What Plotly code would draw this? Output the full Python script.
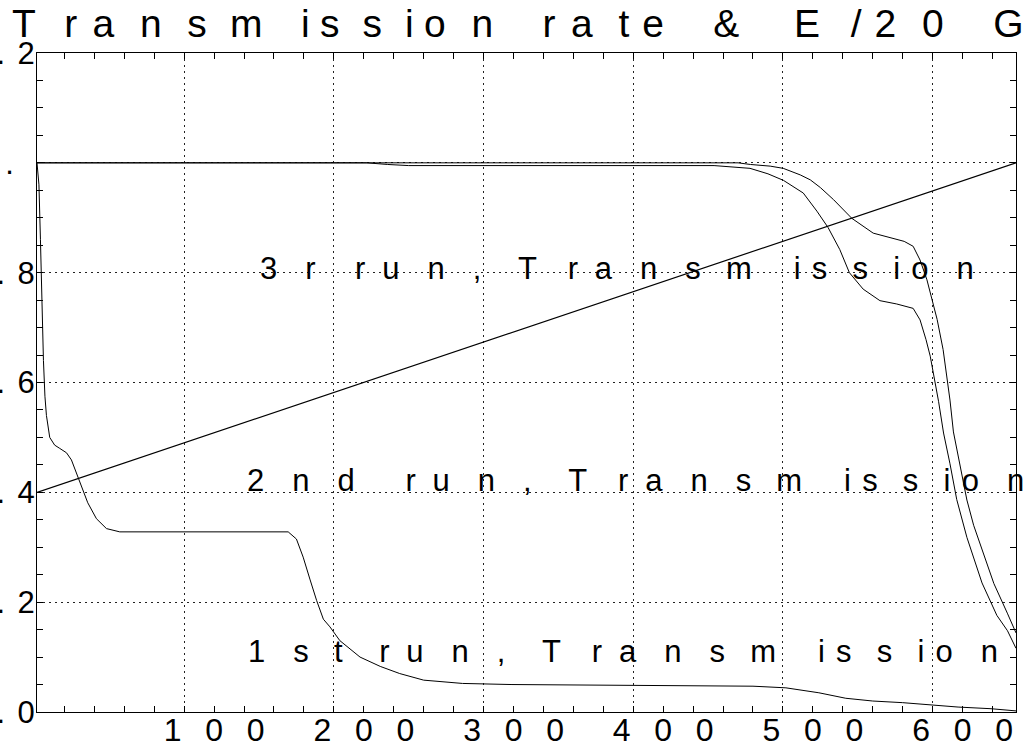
import plotly.graph_objects as go

FONT = "'Liberation Sans', Arial, sans-serif"

# ---- data (channel index on x, transmission / normalised energy on y) ----
run1_x = [1.7, 3.0, 4.0, 5.0, 6.0, 7.0, 8.0, 10.2, 13.5, 16.9, 21.4, 24.7, 28.0, 32.2, 35.6,
          41.4, 48.1, 57.0, 100, 169.5, 175, 179.5, 184, 188.5, 193, 197.4, 204, 217.5, 231,
          244, 260, 286, 319, 380, 446, 480, 502, 524, 542, 560, 580, 600, 617, 639, 650, 655.7]
run1_y = [1.0, 0.96, 0.86, 0.74, 0.64, 0.575, 0.54, 0.50, 0.486, 0.48, 0.472, 0.459, 0.435,
          0.404, 0.381, 0.352, 0.334, 0.328, 0.328, 0.328, 0.315, 0.282, 0.242, 0.203, 0.169,
          0.155, 0.13, 0.10, 0.083, 0.07, 0.058, 0.052, 0.05, 0.049, 0.048, 0.047, 0.044,
          0.035, 0.025, 0.02, 0.017, 0.013, 0.009, 0.006, 0.004, 0.002]

run2_x = [1.7, 222, 236, 250, 454, 478, 490, 500.4, 513.6, 522.7, 530.2, 538, 544.4, 553.6,
          564.8, 576, 587, 591.6, 595.6, 598.4, 604, 607.3, 611.6, 616.1, 622.9, 633, 642.9,
          650, 655.7]
run2_y = [1.0, 1.0, 0.997, 0.995, 0.995, 0.99, 0.98, 0.968, 0.945, 0.912, 0.882, 0.842, 0.80,
          0.77, 0.749, 0.743, 0.735, 0.714, 0.678, 0.648, 0.565, 0.508, 0.452, 0.387, 0.318,
          0.235, 0.176, 0.148, 0.116]

run3_x = [1.7, 470, 478.3, 491.5, 500.2, 511.6, 518.3, 525, 533.8, 546, 560.3, 569.5, 576, 581,
          587, 591.6, 596.2, 600, 603, 607, 611.6, 613.9, 618.4, 622.9, 627.4, 632, 640.9,
          649.9, 655.7]
run3_y = [1.0, 1.0, 0.997, 0.994, 0.99, 0.978, 0.969, 0.955, 0.933, 0.899, 0.872, 0.865, 0.86,
          0.857, 0.848, 0.823, 0.787, 0.745, 0.715, 0.66, 0.568, 0.51, 0.447, 0.386, 0.34,
          0.305, 0.234, 0.18, 0.144]

energy_x = [1.7, 655.7]
energy_gev = [8.0, 20.0]
energy_norm = [e / 20.0 for e in energy_gev]

title_text = "Transmission rate & E/20 GeV"
label_texts = ["3r run, Transmission", "2nd run, Transmission", "1st run, Transmission"]
label_x = [149.2, 140.5, 141.2]
label_y = [0.807, 0.421, 0.111]

x_tickvals = [100, 200, 300, 400, 500, 600]
x_ticklabels = ["100", "200", "300", "400", "500", "600"]
y_tickvals = [0.0, 0.2, 0.4, 0.6, 0.8, 1.0, 1.2]
y_ticklabels = ["0.0", "0.2", "0.4", "0.6", "0.8", "1.", "1.2"]

# ---- wide, proportional letter spacing ----
# pitch of each glyph = factor x its narrow-face advance; spacing = pitch - actual advance
NARROW = {' ': 228, ',': 228, '.': 228, '/': 228, '&': 547, 'E': 547, 'G': 638, 'T': 501,
          'V': 547, 'a': 456, 'd': 456, 'e': 456, 'i': 182, 'm': 683, 'n': 456, 'o': 456,
          'r': 273, 's': 410, 't': 228, 'u': 456, 'v': 410}
REG = {' ': 278, ',': 278, '.': 278, '/': 278, '&': 667, 'E': 667, 'G': 778, 'T': 611,
       'V': 667, 'a': 556, 'd': 556, 'e': 556, 'i': 222, 'm': 833, 'n': 556, 'o': 556,
       'r': 333, 's': 500, 't': 278, 'u': 556, 'v': 500}


def spaced(text, size, ref_size, factor, last_pad=0.0):
    out = []
    for i, ch in enumerate(text):
        pitch = factor * NARROW.get(ch, 456) / 1000.0 * ref_size
        adv = REG.get(ch, 556) / 1000.0 * size
        ls = pitch - adv if i < len(text) - 1 else last_pad
        out.append('<span style="letter-spacing:%.1fpx">%s</span>' % (ls, ch))
    return ''.join(out)


fig = go.Figure()
line = dict(color="black", width=1)
fig.add_trace(go.Scatter(x=energy_x, y=energy_norm, mode="lines",
                         line=dict(color="black", width=1.2), name="E/20 GeV",
                         showlegend=False, hoverinfo="skip"))
fig.add_trace(go.Scatter(x=run1_x, y=run1_y, mode="lines", line=line, name="1st run",
                         showlegend=False))
fig.add_trace(go.Scatter(x=run2_x, y=run2_y, mode="lines", line=line, name="2nd run",
                         showlegend=False))
fig.add_trace(go.Scatter(x=run3_x, y=run3_y, mode="lines", line=line, name="3r run",
                         showlegend=False))

LABEL_SIZE = 31
for t, xx, yy in zip(label_texts, label_x, label_y):
    fig.add_annotation(x=xx, y=yy, xref="x", yref="y", text=spaced(t, LABEL_SIZE, 32, 3.1),
                       showarrow=False, xanchor="left", yanchor="middle",
                       font=dict(family=FONT, size=LABEL_SIZE, color="black"))

Y_SIZE = 31
y_text = []
for lab in y_ticklabels:
    if lab == "1.":
        y_text.append(spaced(lab, Y_SIZE, 32, 2.88, last_pad=20.7))
    else:
        y_text.append(spaced(lab, Y_SIZE, 32, 2.88))

X_SIZE = 32
axis_common = dict(showline=True, linecolor="black", linewidth=1.2, mirror="allticks",
                   ticks="inside", ticklen=6, tickcolor="black", tickwidth=1,
                   showgrid=True, gridcolor="#222222", gridwidth=1, griddash="2px,4px",
                   zeroline=False, automargin=False)

fig.update_xaxes(range=[1.7, 655.7], tickmode="array", tickvals=x_tickvals,
                 ticktext=[spaced(s, X_SIZE, 33, 2.76) for s in x_ticklabels],
                 ticklabelshift=30, ticklabelstandoff=-11,
                 tickfont=dict(family=FONT, size=X_SIZE, color="black"),
                 minor=dict(dtick=20, tick0=0, ticks="inside", ticklen=6, tickcolor="black",
                            showgrid=False),
                 **axis_common)
fig.update_yaxes(range=[0, 1.2], tickmode="array", tickvals=y_tickvals, ticktext=y_text,
                 ticklabelstandoff=-5,
                 tickfont=dict(family=FONT, size=Y_SIZE, color="black"),
                 minor=dict(dtick=0.05, tick0=0, ticks="inside", ticklen=6, tickcolor="black",
                            showgrid=False),
                 **axis_common)

TITLE_SIZE = 39
fig.update_layout(
    width=1023, height=745,
    margin=dict(l=37, r=7, t=53, b=33, pad=0),
    paper_bgcolor="white", plot_bgcolor="white",
    title=dict(text=spaced(title_text, TITLE_SIZE, 40, 2.6), x=12 / 1023, xref="container",
               xanchor="left", y=1 - 9.5 / 745, yref="container", yanchor="top",
               font=dict(family=FONT, size=TITLE_SIZE, color="black")),
    showlegend=False,
)

fig.write_html("out.html", config={"displayModeBar": False},
               post_script="document.body.style.margin='0';document.body.style.overflow='hidden';")
